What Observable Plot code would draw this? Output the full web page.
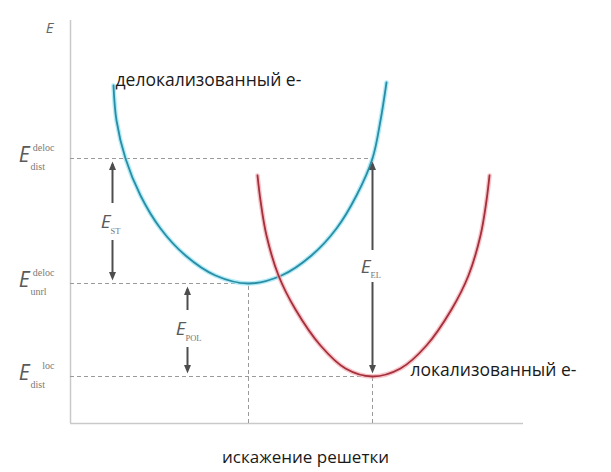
<!DOCTYPE html>
<html><head><meta charset="utf-8">
<script src="https://cdn.jsdelivr.net/npm/d3@7"></script>
<script src="https://cdn.jsdelivr.net/npm/@observablehq/plot@0.6"></script>
<style>body{margin:0;background:#fff}</style>
</head><body><div id="chart"></div>
<script>
// delocalized electron energy curve (lattice distortion, energy)
const delocX = [43, 46, 55, 70, 90, 115, 145, 178, 211, 241, 266, 286, 302, 310, 316];
const delocE = [338, 303, 265, 228, 195, 168, 148, 140, 148, 168, 195, 228, 265, 303, 341];
// localized electron energy curve
const locX = [187, 190, 196, 208, 225, 250, 275, 302, 330, 356, 381, 398, 410, 416, 419];
const locE = [248, 223, 188, 148, 114, 78, 55, 47, 55, 78, 114, 148, 188, 223, 248];
// energy levels
const levelE = [265, 140, 47];
const levelEndX = [302, 178, 302];
const levelSup = ["deloc", "deloc", "loc"];
const levelSub = ["dist", "unrl", "dist"];
// minima positions on distortion axis
const minX = [178, 302];
const minE = [140, 47];
// energy differences
const arrowName = ["ST", "POL", "EL"];
const arrowX = [42, 117, 302];
const arrowFrom = [140, 47, 47];
const arrowTo = [265, 140, 265];
const gapLow = [183, 76, 141];
const gapHigh = [220, 113, 173];
// texts
const curveLabels = ["делокализованный е-", "локализованный е-"];
const xLabel = "искажение решетки";
const yLabel = "E";

const deloc = delocX.map((x, i) => ({x, y: delocE[i]}));
const loc = locX.map((x, i) => ({x, y: locE[i]}));
const levels = levelE.map((y, i) => ({y, x2: levelEndX[i], sup: levelSup[i], sub: levelSub[i]}));
const arrows = arrowX.map((x, i) => ({x, from: arrowFrom[i], to: arrowTo[i], lo: gapLow[i], hi: gapHigh[i], name: arrowName[i], mid: (gapLow[i] + gapHigh[i]) / 2}));

const up = {draw(ctx, size) { const w = Math.sqrt(size / Math.PI); ctx.moveTo(0, 0); ctx.lineTo(-w, 2.4 * w); ctx.lineTo(w, 2.4 * w); ctx.closePath(); }};
const down = {draw(ctx, size) { const w = Math.sqrt(size / Math.PI); ctx.moveTo(0, 0); ctx.lineTo(-w, -2.4 * w); ctx.lineTo(w, -2.4 * w); ctx.closePath(); }};

const axisC = "#c9c9c9", dashC = "#9a9a9a", arrowC = "#4d4d4d", grayT = "#5a5a5a";
const sansF = "'Open Sans', sans-serif", eF = "'Open Sans', sans-serif", serifF = "'Liberation Serif', serif";

const marks = [
  // axes
  Plot.ruleX([0], {y1: 0, y2: 403, stroke: axisC, strokeWidth: 1.5}),
  Plot.ruleY([0], {x1: 0, x2: 453, stroke: axisC, strokeWidth: 1.5}),
  // dashed levels
  Plot.ruleY(levels, {y: "y", x1: 0, x2: "x2", stroke: dashC, strokeDasharray: "4,3", strokeWidth: 1}),
  Plot.ruleX(minX.map((x, i) => ({x, y: minE[i]})), {x: "x", y1: 0, y2: "y", stroke: dashC, strokeDasharray: "4,3", strokeWidth: 1}),
  // curves (halo + core)
  Plot.line(deloc, {x: "x", y: "y", curve: "catmull-rom", stroke: "#8fe3f5", strokeWidth: 4.5, strokeOpacity: 0.7}),
  Plot.line(deloc, {x: "x", y: "y", curve: "catmull-rom", stroke: "#2b8da3", strokeWidth: 1.8}),
  Plot.line(loc, {x: "x", y: "y", curve: "catmull-rom", stroke: "#f3a9b0", strokeWidth: 4.5, strokeOpacity: 0.7}),
  Plot.line(loc, {x: "x", y: "y", curve: "catmull-rom", stroke: "#a3303b", strokeWidth: 1.8}),
  // arrows
  Plot.ruleX(arrows, {x: "x", y1: "hi", y2: d => d.to - 6, stroke: arrowC, strokeWidth: 2}),
  Plot.ruleX(arrows, {x: "x", y1: "lo", y2: d => d.from + 6, stroke: arrowC, strokeWidth: 2}),
  Plot.dot(arrows, {x: "x", y: d => d.to - 3, symbol: up, r: 3.5, fill: arrowC, stroke: "none"}),
  Plot.dot(arrows, {x: "x", y: d => d.from + 3, symbol: down, r: 3.5, fill: arrowC, stroke: "none"}),
  Plot.text(arrows, {x: "x", y: "mid", text: d => "E", textAnchor: "end", dx: -2, fontSize: 19, fontStyle: "italic", fontFamily: eF, fill: grayT}),
  Plot.text(arrows, {x: "x", y: "mid", text: "name", textAnchor: "start", dx: -2, dy: 9, fontSize: 8.5, fontFamily: serifF, fill: "#777"}),
  // level labels
  Plot.text(levels, {x: 0, y: "y", text: d => "E", textAnchor: "end", fontSize: 21, fontStyle: "italic", fontFamily: eF, fill: grayT, dy: -3, dx: -41}),
  Plot.text(levels, {x: 0, y: "y", text: "sup", textAnchor: "end", dx: -16, dy: -11, fontSize: 10, fontFamily: serifF, fill: "#7a7a7a"}),
  Plot.text(levels, {x: 0, y: "y", text: "sub", textAnchor: "start", dx: -40, dy: 8, fontSize: 10, fontFamily: serifF, fill: "#7a7a7a"}),
  // axis titles
  Plot.text([yLabel], {x: 0, y: 403, text: d => d, dx: -21, dy: 8, fontSize: 15, fontStyle: "italic", fontFamily: eF, fill: "#666"}),
  Plot.text([xLabel], {x: 235, y: 0, text: d => d, dy: 34, fontSize: 17, fontFamily: sansF, fill: "#1a1a1a"}),
  // curve labels
  Plot.text([curveLabels[0]], {x: deloc[0].x, y: deloc[0].y, text: d => d, textAnchor: "start", dx: 2, dy: -5, fontSize: 17.5, fontFamily: sansF, fill: "#1a1a1a"}),
  Plot.text([curveLabels[1]], {x: minX[1], y: minE[1], text: d => d, textAnchor: "start", dx: 38, dy: -6, fontSize: 17.5, fontFamily: sansF, fill: "#1a1a1a"})
];

const chart = Plot.plot({
  width: 611, height: 472,
  marginLeft: 70, marginRight: 86, marginTop: 20, marginBottom: 49,
  x: {domain: [0, 455], axis: null},
  y: {domain: [0, 403], axis: null},
  style: {background: "white", overflow: "visible"},
  marks
});
document.getElementById("chart").appendChild(chart);
</script>
</body></html>
